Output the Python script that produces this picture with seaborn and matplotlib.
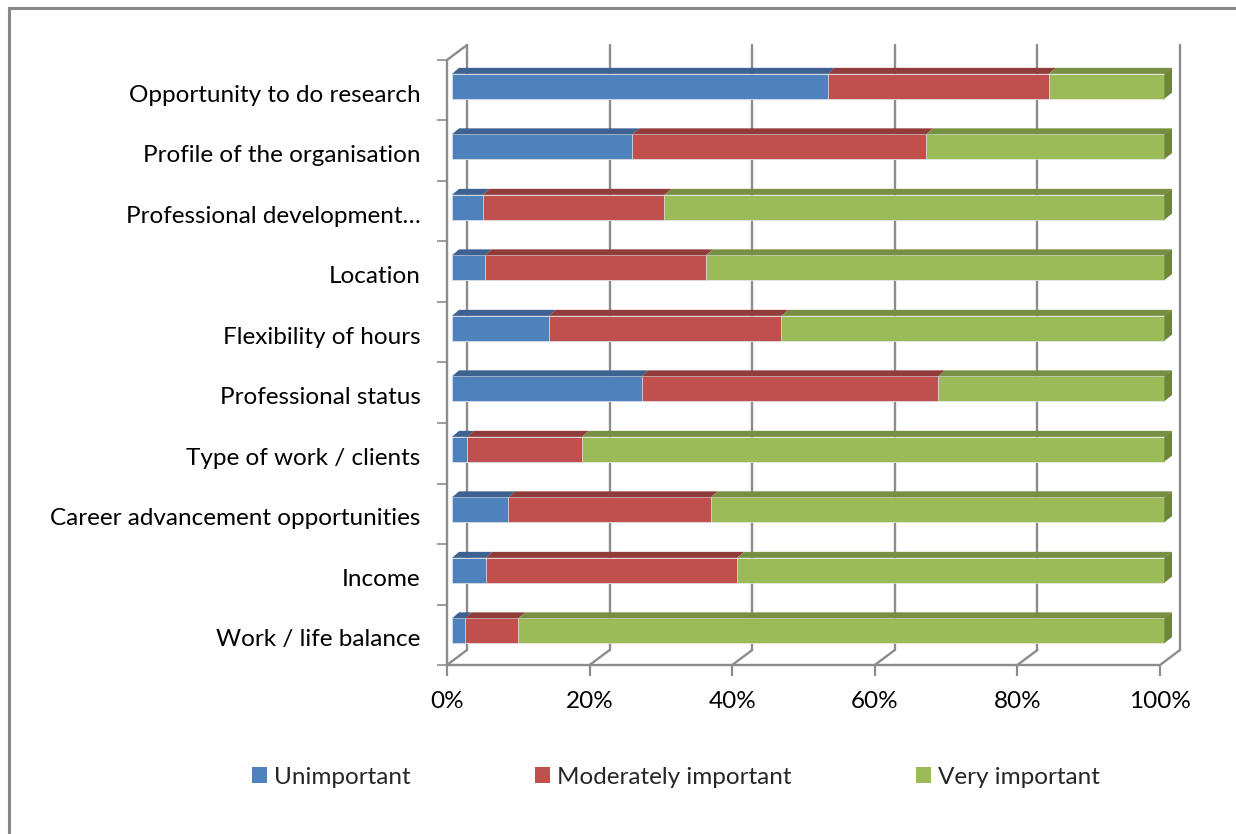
import matplotlib
matplotlib.use("Agg")
import matplotlib.pyplot as plt
import matplotlib.transforms as mtransforms
from matplotlib.patches import Polygon, Rectangle, Patch
import numpy as np
import pandas as pd
import seaborn as sns

# --- data (percent of respondents) ---
factors = [
    "Opportunity to do research",
    "Profile of the organisation",
    "Professional development\u2026",
    "Location",
    "Flexibility of hours",
    "Professional status",
    "Type of work / clients",
    "Career advancement opportunities",
    "Income",
    "Work / life balance",
]
unimportant = [52.7, 25.3, 4.3, 4.6, 13.6, 26.6, 2.1, 7.9, 4.7, 1.8]
moderately = [31.0, 41.2, 25.5, 31.0, 32.6, 41.6, 16.1, 28.4, 35.3, 7.5]
very = [16.3, 33.5, 70.2, 64.4, 53.8, 31.8, 81.8, 63.7, 60.0, 90.7]
series_names = ["Unimportant", "Moderately important", "Very important"]
tick_values = [0, 20, 40, 60, 80, 100]
tick_labels = ["0%", "20%", "40%", "60%", "80%", "100%"]

front_cols = ["#4F81BD", "#C0504D", "#9BBB59"]
top_cols = ["#3D6292", "#913C3A", "#778F43"]
side_col = "#6E853B"
grid_col = "#8C8C8C"
FS = 17.5

sns.set_style("white")
plt.rcParams["font.family"] = ["Lato", "DejaVu Sans"]

df = pd.DataFrame({"Factor": factors, "U": unimportant, "M": moderately, "V": very})
df["UM"] = df["U"] + df["M"]
df["UMV"] = df["UM"] + df["V"]

fig = plt.figure(figsize=(12.36, 8.34), dpi=100)
W, H = 1236, 834
# axes = plane of the bar front faces (5px right, 4px up from the chart's front plane)
ax = fig.add_axes([452 / W, 1 - 661 / H, 713 / W, 605 / H])

bar_w = 0.41
# layered bars give the stacked look
for col, c in zip(["UMV", "UM", "U"], front_cols[::-1]):
    sns.barplot(data=df, x=col, y="Factor", orient="h", color=c, width=bar_w,
                saturation=1, edgecolor="#E8ECF2", linewidth=0.5, ax=ax, zorder=3)

ax.set_xlim(0, 100)
ax.set_ylim(len(factors) - 0.5, -0.5)
ax.set_xlabel("")
ax.set_ylabel("")
for s in ax.spines.values():
    s.set_visible(False)

px_x = 100 / 713.0
px_y = len(factors) / 605.0

def offset(dx, dy):
    return mtransforms.ScaledTranslation(dx / 100, dy / 100, fig.dpi_scale_trans)

front = offset(-5, -4)
back = offset(15, 11)

# 3D top and side faces of the bars
ddx, ddy = 7 * px_x, -6 * px_y
seg_starts = [np.zeros(len(factors)), df["U"].values, df["UM"].values]
seg_ends = [df["U"].values, df["UM"].values, df["UMV"].values]
for k in range(3):
    for i in range(len(factors)):
        x0, x1 = seg_starts[k][i], seg_ends[k][i]
        yt = i - bar_w / 2
        ax.add_patch(Polygon([(x0, yt), (x1, yt), (x1 + ddx, yt + ddy), (x0 + ddx, yt + ddy)],
                             closed=True, facecolor=top_cols[k], edgecolor="none",
                             zorder=4, clip_on=False))
        if k == 2:
            yb = i + bar_w / 2
            xs = x1 - 0.6 * px_x
            ax.add_patch(Polygon([(xs, yb), (xs, yt), (x1 + ddx, yt + ddy), (x1 + ddx, yb + ddy)],
                                 closed=True, facecolor=side_col, edgecolor="none",
                                 zorder=4, clip_on=False))

xax = ax.get_xaxis_transform()
line_kw = dict(color=grid_col, lw=1.7, zorder=1, clip_on=False)

# back wall gridlines
for v in tick_values:
    ax.plot([v, v], [0, 1], transform=xax + back, **line_kw)

# floor diagonals and top wall diagonal (front plane -> back plane)
for v in tick_values:
    a = (xax + front).transform((v, 0))
    b = (xax + back).transform((v, 0))
    pts = ax.transData.inverted().transform([a, b])
    ax.plot(pts[:, 0], pts[:, 1], **line_kw)
a = (xax + front).transform((0, 1))
b = (xax + back).transform((0, 1))
pts = ax.transData.inverted().transform([a, b])
ax.plot(pts[:, 0], pts[:, 1], **line_kw)

# front floor line and left wall front line
ax.plot([0, 100], [0, 0], transform=xax + front, **line_kw)
ax.plot([0, 0], [0, 1], transform=xax + front, **line_kw)

# ticks, moved onto the front plane
ax.set_xticks(tick_values)
ax.set_xticklabels(tick_labels, fontsize=FS, color="black")
ax.set_yticks(np.arange(len(factors) + 1) - 0.5, minor=True)
ax.set_yticks(np.arange(len(factors)))
ax.set_yticklabels(factors, fontsize=FS, color="black")
ax.tick_params(axis="x", which="major", bottom=True, length=8, width=1.6, color=grid_col, pad=11)
ax.tick_params(axis="y", which="major", left=False, pad=19)
ax.tick_params(axis="y", which="minor", left=True, length=7, width=1.2, color=grid_col)
for t in ax.xaxis.get_major_ticks():
    t.tick1line.set_transform(t.tick1line.get_transform() + front)
    t.label1.set_transform(t.label1.get_transform() + front)
for t in ax.yaxis.get_minor_ticks():
    t.tick1line.set_transform(t.tick1line.get_transform() + front)
for t in ax.yaxis.get_major_ticks():
    t.label1.set_transform(t.label1.get_transform() + offset(0, -7))

# legend
handles = [Patch(facecolor=c, edgecolor="none") for c in front_cols]
fig.legend(handles, series_names, loc="center", bbox_to_anchor=(0.547, 1 - 777 / H),
           ncol=3, frameon=False, fontsize=FS, handlelength=0.62, handleheight=0.62,
           handletextpad=0.3, columnspacing=5.1)

# outer chart border
fig.add_artist(Rectangle((9 / W, -0.05), 1.2, 1 - 8 / H + 0.05, transform=fig.transFigure,
                         fill=False, edgecolor="#888888", lw=2.2))

fig.savefig("out.png", dpi=100)
